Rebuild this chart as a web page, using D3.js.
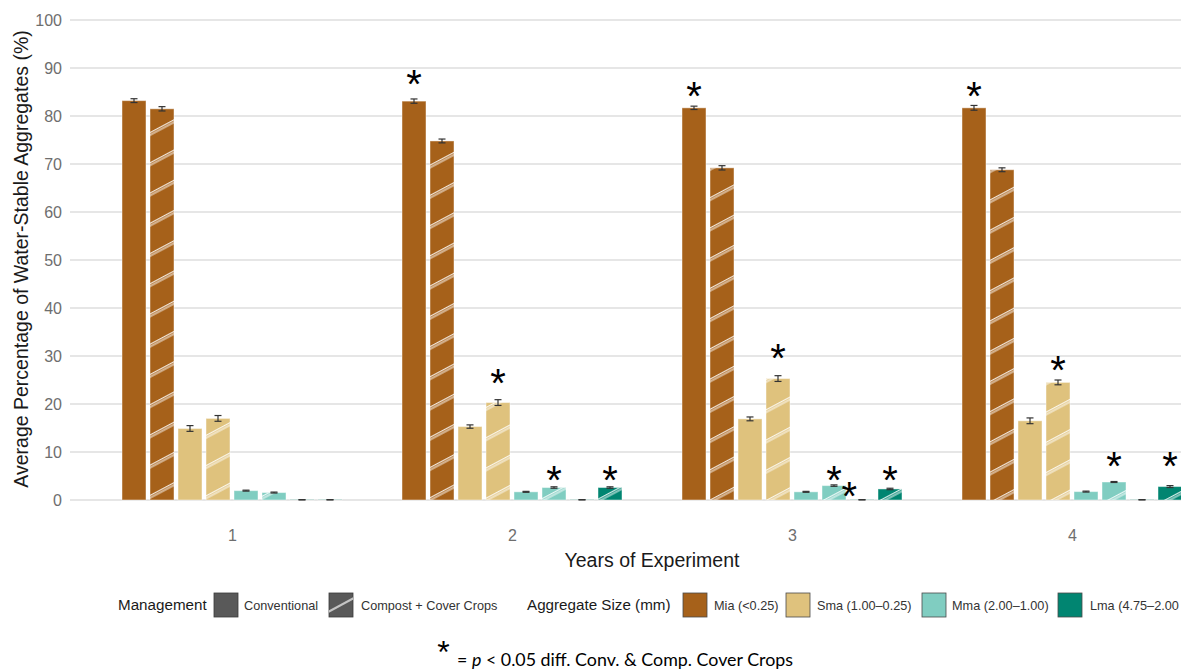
<!DOCTYPE html>
<html>
<head>
<meta charset="utf-8">
<script src="https://cdn.jsdelivr.net/npm/d3@7"></script>
<style>
  body { margin: 0; background: #ffffff; }
  svg { display: block; font-family: "Liberation Sans", Arial, Helvetica, sans-serif; }
</style>
</head>
<body>
<svg id="chart" width="1181" height="670"></svg>
<script>
// ---- data -------------------------------------------------------------
const years = ["1", "2", "3", "4"];
const sizeKeys = ["Mia", "Sma", "Mma", "Lma"];
const sizeLabels = ["Mia (<0.25)", "Sma (1.00\u20130.25)", "Mma (2.00\u20131.00)", "Lma (4.75\u20132.00"];
const sizeColors = ["#A6611A", "#DFC27D", "#80CDC1", "#018571"];
const managementLabels = ["Conventional", "Compost + Cover Crops"];
const yTicks = [0, 10, 20, 30, 40, 50, 60, 70, 80, 90, 100];

// mean % water-stable aggregates per year (Conventional / Compost + Cover Crops)
const miaConv = [83.2, 83.1, 81.7, 81.7];
const miaComp = [81.5, 74.8, 69.2, 68.8];
const smaConv = [14.9, 15.3, 16.9, 16.5];
const smaComp = [17.0, 20.3, 25.3, 24.5];
const mmaConv = [1.95, 1.7, 1.7, 1.75];
const mmaComp = [1.55, 2.6, 3.0, 3.75];
const lmaConv = [0.05, 0.05, 0.05, 0.05];
const lmaComp = [0.05, 2.6, 2.3, 2.8];

// standard errors
const miaConvSe = [0.4, 0.45, 0.35, 0.5];
const miaCompSe = [0.45, 0.4, 0.45, 0.4];
const smaConvSe = [0.6, 0.35, 0.4, 0.6];
const smaCompSe = [0.6, 0.6, 0.6, 0.5];
const mmaConvSe = [0.1, 0.1, 0.1, 0.1];
const mmaCompSe = [0.1, 0.15, 0.15, 0.1];
const lmaConvSe = [0.02, 0.02, 0.02, 0.02];
const lmaCompSe = [0.02, 0.15, 0.15, 0.2];

// significance markers: height in % units, nudge in bar widths
const significance = [
  { year: "2", size: "Mia", mgmt: "conv", at: 87.5, nudge: 0 },
  { year: "2", size: "Sma", mgmt: "comp", at: 25.2, nudge: 0 },
  { year: "2", size: "Mma", mgmt: "comp", at: 5.0, nudge: 0 },
  { year: "2", size: "Lma", mgmt: "comp", at: 5.0, nudge: 0 },
  { year: "3", size: "Mia", mgmt: "conv", at: 85.0, nudge: 0 },
  { year: "3", size: "Sma", mgmt: "comp", at: 30.6, nudge: 0 },
  { year: "3", size: "Mma", mgmt: "comp", at: 5.1, nudge: 0 },
  { year: "3", size: "Lma", mgmt: "conv", at: 1.7, nudge: -0.45 },
  { year: "3", size: "Lma", mgmt: "comp", at: 5.0, nudge: 0 },
  { year: "4", size: "Mia", mgmt: "conv", at: 85.0, nudge: 0 },
  { year: "4", size: "Sma", mgmt: "comp", at: 28.1, nudge: 0 },
  { year: "4", size: "Mma", mgmt: "comp", at: 8.1, nudge: 0 },
  { year: "4", size: "Lma", mgmt: "comp", at: 8.1, nudge: 0 }
];

// ---- table built from the arrays ---------------------------------------
const convMeans = [miaConv, smaConv, mmaConv, lmaConv];
const compMeans = [miaComp, smaComp, mmaComp, lmaComp];
const convSe = [miaConvSe, smaConvSe, mmaConvSe, lmaConvSe];
const compSe = [miaCompSe, smaCompSe, mmaCompSe, lmaCompSe];

const rows = [];
years.forEach((yr, yi) => {
  sizeKeys.forEach((sk, si) => {
    rows.push({ year: yr, size: sk, mgmt: "conv", slot: sk + "-conv", value: convMeans[si][yi], se: convSe[si][yi], color: sizeColors[si] });
    rows.push({ year: yr, size: sk, mgmt: "comp", slot: sk + "-comp", value: compMeans[si][yi], se: compSe[si][yi], color: sizeColors[si] });
  });
});
const slots = sizeKeys.flatMap(s => [s + "-conv", s + "-comp"]);

// ---- layout --------------------------------------------------------------
const svg = d3.select("#chart");
const panelLeft = 70, panelRight = 1240;

const x = d3.scalePoint().domain(years).range([232, 1072]);
const xInner = d3.scaleBand().domain(slots).range([-112, 112]).paddingInner(1 / 7).paddingOuter(1 / 14);
const y = d3.scaleLinear().domain([0, 100]).range([500, 20]);

const defs = svg.append("defs");
const stripe = defs.append("pattern")
  .attr("id", "stripes")
  .attr("patternUnits", "userSpaceOnUse")
  .attr("width", 60).attr("height", 26.7)
  .attr("patternTransform", "rotate(-28)");
stripe.append("rect").attr("x", 0).attr("y", 0).attr("width", 60).attr("height", 3)
  .attr("fill", "#ffffff").attr("fill-opacity", 0.28);
stripe.append("line").attr("x1", 0).attr("x2", 60).attr("y1", 0.5).attr("y2", 0.5)
  .attr("stroke", "#ffffff").attr("stroke-opacity", 0.85).attr("stroke-width", 0.9);
stripe.append("line").attr("x1", 0).attr("x2", 60).attr("y1", 3).attr("y2", 3)
  .attr("stroke", "#ffffff").attr("stroke-opacity", 0.85).attr("stroke-width", 0.9);

// gridlines
svg.append("g").selectAll("line").data(yTicks).join("line")
  .attr("x1", panelLeft).attr("x2", panelRight)
  .attr("y1", d => y(d)).attr("y2", d => y(d))
  .attr("stroke", "#dedede").attr("stroke-width", 1.3);

// y axis labels
const yAxis = d3.axisLeft(y).tickValues(yTicks).tickSize(0).tickPadding(8);
svg.append("g").attr("transform", `translate(${panelLeft},0)`).call(yAxis)
  .call(g => g.select(".domain").remove())
  .call(g => g.selectAll("text").attr("fill", "#6e6e6e").attr("font-size", 16)
    .attr("font-family", "'Liberation Sans', Arial, sans-serif"));

// x axis labels
const xAxis = d3.axisBottom(x).tickSize(0).tickPadding(30);
svg.append("g").attr("transform", `translate(0,${y(0)})`).call(xAxis)
  .call(g => g.select(".domain").remove())
  .call(g => g.selectAll("text").attr("fill", "#6e6e6e").attr("font-size", 16)
    .attr("font-family", "'Liberation Sans', Arial, sans-serif"));

// bars
const barX = d => x(d.year) + xInner(d.slot);
const bars = svg.append("g");
bars.selectAll("rect.bar").data(rows).join("rect")
  .attr("class", "bar")
  .attr("x", barX)
  .attr("y", d => y(d.value))
  .attr("width", xInner.bandwidth())
  .attr("height", d => y(0) - y(d.value))
  .attr("fill", d => d.color)
  .attr("stroke", "#ffffff").attr("stroke-opacity", 0.45).attr("stroke-width", 1);
bars.selectAll("rect.hatch").data(rows.filter(d => d.mgmt === "comp")).join("rect")
  .attr("class", "hatch")
  .attr("x", barX)
  .attr("y", d => y(d.value))
  .attr("width", xInner.bandwidth())
  .attr("height", d => y(0) - y(d.value))
  .attr("fill", "url(#stripes)");

// error bars
const eb = svg.append("g").attr("stroke", "#333333").attr("stroke-width", 1.2);
const cap = 3.5;
rows.forEach(d => {
  const cx = barX(d) + xInner.bandwidth() / 2;
  eb.append("line").attr("x1", cx).attr("x2", cx).attr("y1", y(d.value - d.se)).attr("y2", y(d.value + d.se));
  eb.append("line").attr("x1", cx - cap).attr("x2", cx + cap).attr("y1", y(d.value - d.se)).attr("y2", y(d.value - d.se));
  eb.append("line").attr("x1", cx - cap).attr("x2", cx + cap).attr("y1", y(d.value + d.se)).attr("y2", y(d.value + d.se));
});

// significance asterisks (glyph centre sits ~0.46em above the baseline)
const starSize = 40;
svg.append("g").selectAll("text").data(significance).join("text")
  .attr("x", d => x(d.year) + xInner(d.size + "-" + d.mgmt) + xInner.bandwidth() / 2 + d.nudge * xInner.step())
  .attr("y", d => y(d.at) + starSize * 0.46)
  .attr("text-anchor", "middle")
  .attr("font-size", starSize)
  .attr("fill", "#000000")
  .text("*");

// axis titles
svg.append("text")
  .attr("x", 652).attr("y", 567)
  .attr("text-anchor", "middle").attr("font-size", 19.5).attr("fill", "#1a1a1a")
  .text("Years of Experiment");
svg.append("text")
  .attr("transform", "translate(28,259) rotate(-90)")
  .attr("text-anchor", "middle").attr("font-size", 19.5).attr("fill", "#1a1a1a")
  .text("Average Percentage of Water-Stable Aggregates (%)");

// legend
const legY = 593, keySize = 24;
const leg = svg.append("g");
leg.append("text").attr("x", 118).attr("y", legY + keySize / 2).attr("dy", "0.36em")
  .attr("font-size", 15.2).attr("fill", "#1a1a1a").text("Management");

const mgmtKeyX = [214, 329];
const mgmtTextX = [244, 361];
managementLabels.forEach((lab, i) => {
  leg.append("rect").attr("x", mgmtKeyX[i]).attr("y", legY).attr("width", keySize).attr("height", keySize)
    .attr("fill", "#595959").attr("stroke", "#3a3a3a").attr("stroke-width", 0.8);
  leg.append("text").attr("x", mgmtTextX[i]).attr("y", legY + keySize / 2).attr("dy", "0.36em")
    .attr("font-size", 12.7).attr("fill", "#333333").text(lab);
});
// hatched key
defs.append("clipPath").attr("id", "keyclip").append("rect")
  .attr("x", mgmtKeyX[1]).attr("y", legY).attr("width", keySize).attr("height", keySize);
const kcx = mgmtKeyX[1] + keySize / 2, kcy = legY + keySize / 2;
const kdx = 20, kdy = 20 * Math.tan(28 * Math.PI / 180);
const kg = leg.append("g").attr("clip-path", "url(#keyclip)");
kg.append("line").attr("x1", kcx - kdx).attr("y1", kcy + kdy).attr("x2", kcx + kdx).attr("y2", kcy - kdy)
  .attr("stroke", "#c4c4c4").attr("stroke-width", 2.2);

leg.append("text").attr("x", 527).attr("y", legY + keySize / 2).attr("dy", "0.36em")
  .attr("font-size", 15.2).attr("fill", "#1a1a1a").text("Aggregate Size (mm)");
const sizeKeyX = [683, 786, 922, 1058];
const sizeTextX = [714, 817, 952, 1090];
sizeLabels.forEach((lab, i) => {
  leg.append("rect").attr("x", sizeKeyX[i]).attr("y", legY).attr("width", keySize).attr("height", keySize)
    .attr("fill", sizeColors[i]).attr("stroke", "#4a4a4a").attr("stroke-width", 0.8);
  leg.append("text").attr("x", sizeTextX[i]).attr("y", legY + keySize / 2).attr("dy", "0.36em")
    .attr("font-size", 12.7).attr("fill", "#333333").text(lab);
});

// footnote
const foot = svg.append("g");
foot.append("text").attr("x", 443.5).attr("y", 663).attr("text-anchor", "middle")
  .attr("font-size", 32).attr("fill", "#000000").text("*");
const note = foot.append("text").attr("x", 457).attr("y", 666)
  .attr("font-family", "Lato, 'Open Sans', sans-serif").attr("font-size", 17).attr("fill", "#000000")
  .attr("textLength", 336).attr("lengthAdjust", "spacingAndGlyphs");
note.append("tspan").text("= ");
note.append("tspan").attr("font-style", "italic").text("p");
note.append("tspan").text(" < 0.05 diff. Conv. & Comp. Cover Crops");
</script>
</body>
</html>
